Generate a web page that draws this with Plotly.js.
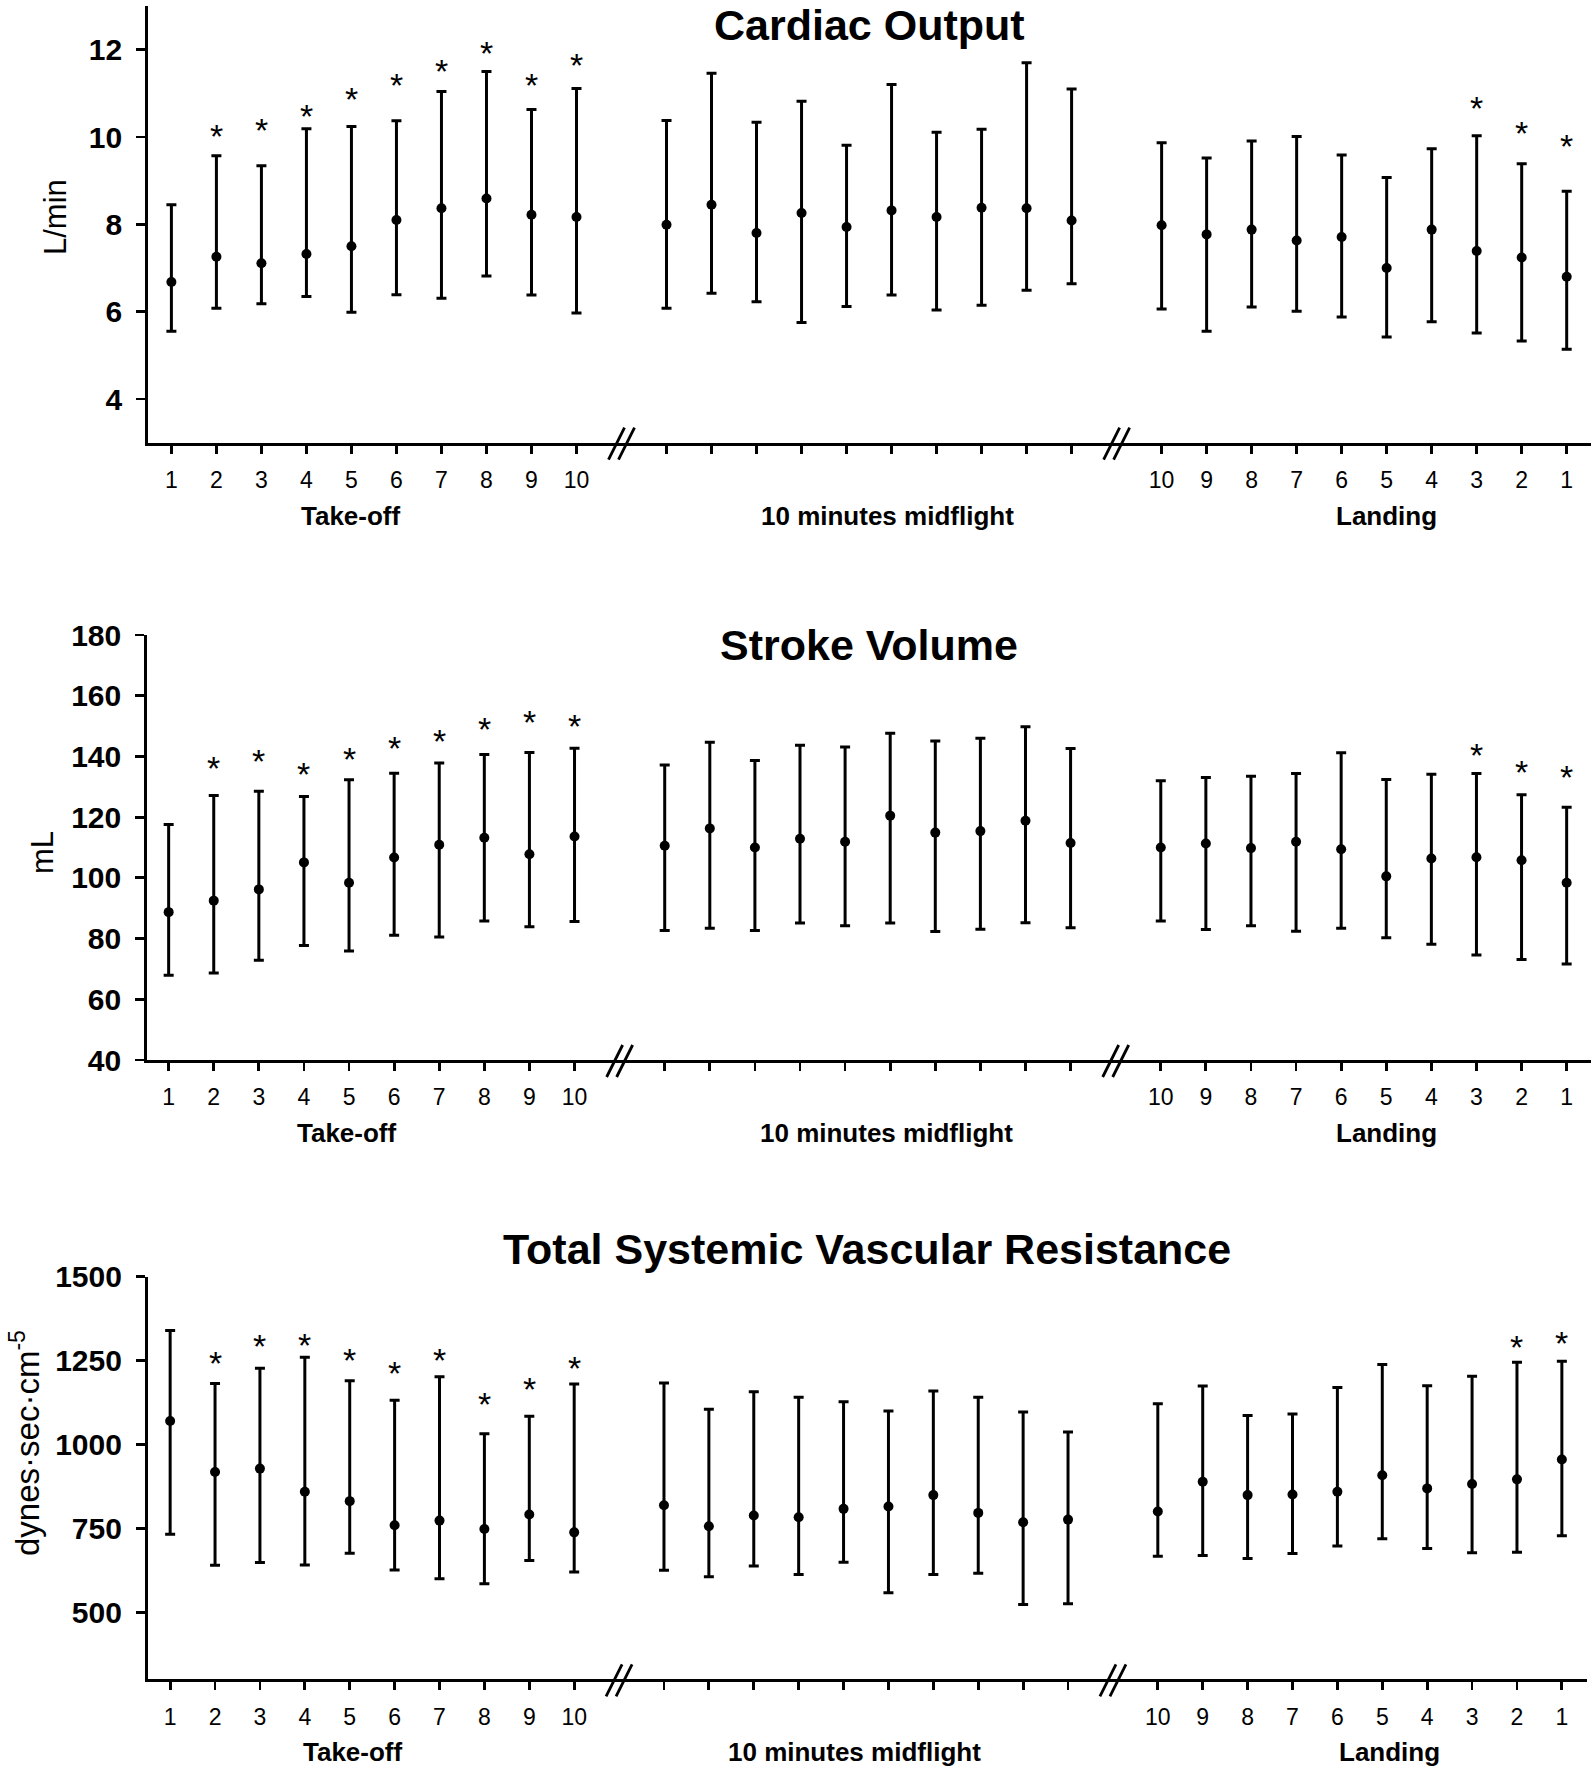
<!DOCTYPE html>
<html>
<head>
<meta charset="utf-8">
<script src="https://cdn.plot.ly/plotly-3.0.1.min.js"></script>
<style>html,body{margin:0;padding:0;background:#fff}</style>
</head>
<body>
<div id="chart" style="width:1593px;height:1772px"></div>
<script>
// x slots: take-off 1..10, axis break, 10 midflight minutes, axis break, landing 10..1
const takeoffLabels = ["1", "2", "3", "4", "5", "6", "7", "8", "9", "10"];
const midflightLabels = ["", "", "", "", "", "", "", "", "", ""];
const landingLabels = ["10", "9", "8", "7", "6", "5", "4", "3", "2", "1"];
const segmentNames = ["Take-off", "10 minutes midflight", "Landing"];

// Cardiac Output (L/min): 10 take-off, 10 midflight, 10 landing points
const coMean = [6.68, 7.26, 7.11, 7.32, 7.50, 8.10, 8.37, 8.59, 8.22, 8.17,
  7.99, 8.45, 7.80, 8.26, 7.94, 8.32, 8.17, 8.38, 8.37, 8.09,
  7.98, 7.77, 7.88, 7.63, 7.71, 7.00, 7.88, 7.39, 7.24, 6.80];
const coUpper = [8.45, 9.57, 9.34, 10.19, 10.24, 10.37, 11.04, 11.50, 10.63, 11.11,
  10.38, 11.46, 10.34, 10.82, 9.81, 11.20, 10.11, 10.18, 11.70, 11.10,
  9.87, 9.52, 9.91, 10.01, 9.59, 9.07, 9.73, 10.03, 9.39, 8.76];
const coLower = [5.55, 6.08, 6.18, 6.35, 5.99, 6.39, 6.31, 6.82, 6.38, 5.97,
  6.08, 6.42, 6.23, 5.75, 6.12, 6.38, 6.04, 6.15, 6.49, 6.64,
  6.06, 5.55, 6.11, 6.01, 5.88, 5.42, 5.77, 5.51, 5.33, 5.14];
const coStar = [null, 10.16, 10.30, 10.62, 11.01, 11.33, 11.66, 12.06, 11.33, 11.78,
  null, null, null, null, null, null, null, null, null, null,
  null, null, null, null, null, null, null, 10.81, 10.22, 9.94];

// Stroke Volume (mL)
const svMean = [88.7, 92.5, 96.2, 105.1, 98.4, 106.7, 110.9, 113.2, 107.8, 113.6,
  110.6, 116.3, 110.0, 112.9, 111.9, 120.5, 114.9, 115.4, 118.8, 111.5,
  110.0, 111.3, 109.8, 111.9, 109.4, 100.5, 106.4, 106.8, 105.8, 98.4];
const svUpper = [117.6, 127.1, 128.5, 126.8, 132.3, 134.5, 137.8, 140.6, 141.3, 142.7,
  137.2, 144.7, 138.7, 143.7, 143.1, 147.6, 145.1, 146.0, 149.8, 142.6,
  132.0, 133.1, 133.5, 134.4, 141.2, 132.4, 134.1, 134.4, 127.4, 123.3];
const svLower = [67.9, 68.7, 72.9, 77.7, 75.9, 81.1, 80.5, 85.8, 83.9, 85.6,
  82.7, 83.4, 82.7, 85.1, 84.2, 85.1, 82.3, 83.1, 85.2, 83.6,
  85.8, 83.0, 84.2, 82.4, 83.4, 80.3, 78.1, 74.6, 73.1, 71.6];
const svStar = [null, 138.2, 140.5, 136.1, 141.1, 144.6, 146.9, 151.0, 153.4, 152.0,
  null, null, null, null, null, null, null, null, null, null,
  null, null, null, null, null, null, null, 142.3, 137.0, 135.2];

// Total Systemic Vascular Resistance (dynes·sec·cm-5)
const tsvrMean = [1070, 918, 928, 859, 831, 759, 773, 748, 791, 738,
  819, 756, 788, 783, 808, 815, 849, 796, 768, 776,
  800, 889, 849, 851, 859, 908, 869, 882, 896, 955];
const tsvrUpper = [1340, 1182, 1227, 1260, 1190, 1132, 1202, 1032, 1084, 1180,
  1183, 1105, 1157, 1141, 1127, 1100, 1159, 1141, 1097, 1037,
  1121, 1174, 1086, 1091, 1170, 1238, 1175, 1203, 1245, 1248];
const tsvrLower = [732, 640, 648, 641, 676, 626, 600, 585, 654, 620,
  625, 606, 638, 612, 649, 558, 612, 616, 523, 525,
  667, 669, 660, 675, 697, 719, 690, 677, 679, 728];
const tsvrStar = [null, 1262, 1310, 1315, 1269, 1231, 1269, 1138, 1182, 1245,
  null, null, null, null, null, null, null, null, null, null,
  null, null, null, null, null, null, null, null, 1308, 1319];

const W = 1593, H = 1772;
const FONT = "Liberation Sans, Arial, Helvetica, sans-serif";

const takeoffKeys = takeoffLabels.map((l) => "T" + l);
const midKeys = midflightLabels.map((l, i) => "M" + (i + 1));
const landingKeys = landingLabels.map((l) => "L" + l);
const slots = [...takeoffKeys, "break1", ...midKeys, "break2", ...landingKeys];
const dataKeys = [...takeoffKeys, ...midKeys, ...landingKeys];
const tickText = [...takeoffLabels, ...midflightLabels, ...landingLabels];

const panels = [
  { title: "Cardiac Output", ytitle: "L/min", ytitleSize: 31,
    mean: coMean, upper: coUpper, lower: coLower, star: coStar,
    yrange: [3, 13], ytick: [4, 6, 8, 10, 12],
    top: 6, bottom: 442.7, xl: 148, xr: 1591, xrange: [-0.52, 31.54],
    titleY: 25, ytitleX: 55, ytitleY: 217,
    segAt: [["T5", 0], ["M6", -4], ["L5", 0]] },
  { title: "Stroke Volume", ytitle: "mL", ytitleSize: 31,
    mean: svMean, upper: svUpper, lower: svLower, star: svStar,
    yrange: [40, 180], ytick: [40, 60, 80, 100, 120, 140, 160, 180],
    top: 635, bottom: 1060, xl: 147, xr: 1591, xrange: [-0.48, 31.54],
    titleY: 645, ytitleX: 42, ytitleY: 853,
    segAt: [["T5", -2], ["M6", -4], ["L5", 0]] },
  { title: "Total Systemic Vascular Resistance", ytitle: "dynes·sec·cm<sup>-5</sup>", ytitleSize: 33,
    mean: tsvrMean, upper: tsvrUpper, lower: tsvrLower, star: tsvrStar,
    yrange: [300, 1500], ytick: [500, 750, 1000, 1250, 1500],
    top: 1276.7, bottom: 1679.3, xl: 147.7, xr: 1587, xrange: [-0.5, 31.56],
    titleY: 1249, ytitleX: 25, ytitleY: 1443,
    segAt: [["T5", 3], ["M5", 11], ["L5", 7]] },
];

const traces = [];
const annotations = [];
const shapes = [];
const layout = {
  width: W, height: H,
  margin: { l: 0, r: 0, t: 0, b: 0 },
  showlegend: false,
  paper_bgcolor: "white",
  plot_bgcolor: "rgba(0,0,0,0)",
  font: { family: FONT, color: "black" },
};

panels.forEach((p, i) => {
  const n = i === 0 ? "" : String(i + 1);
  const xa = "x" + n, ya = "y" + n;

  traces.push({
    type: "scatter", mode: "markers",
    x: dataKeys, y: p.mean,
    xaxis: xa, yaxis: ya,
    marker: { color: "black", size: 10 },
    error_y: {
      type: "data", symmetric: false,
      array: p.upper.map((u, k) => u - p.mean[k]),
      arrayminus: p.lower.map((l, k) => p.mean[k] - l),
      color: "black", thickness: 3, width: 5,
    },
    cliponaxis: false,
    hoverinfo: "skip",
  });

  layout["xaxis" + n] = {
    domain: [p.xl / W, p.xr / W], anchor: ya,
    type: "category", categoryorder: "array", categoryarray: slots,
    range: p.xrange,
    tickmode: "array", tickvals: dataKeys, ticktext: tickText,
    ticks: "outside", ticklen: 8, tickwidth: 2.8, tickcolor: "black",
    showline: true, linewidth: 2.8, linecolor: "black",
    showgrid: false, zeroline: false,
    tickfont: { size: 23, family: FONT, color: "black" },
    ticklabelstandoff: 7,
    automargin: false, fixedrange: true,
  };
  layout["yaxis" + n] = {
    domain: [1 - p.bottom / H, 1 - p.top / H], anchor: xa,
    range: p.yrange,
    tickmode: "array", tickvals: p.ytick,
    ticks: "outside", ticklen: 9, tickwidth: 2.8, tickcolor: "black",
    showline: true, linewidth: 2.8, linecolor: "black",
    showgrid: false, zeroline: false,
    tickfont: { size: 30, family: FONT, color: "black", weight: "bold" },
    ticklabelstandoff: 8,
    automargin: false, fixedrange: true,
  };

  // significance asterisks
  p.star.forEach((s, k) => {
    if (s === null) return;
    annotations.push({
      xref: xa, yref: ya, x: dataKeys[k], y: s,
      text: "*", showarrow: false, yshift: -6,
      font: { size: 34, family: FONT, color: "black" },
    });
  });

  // panel title
  annotations.push({
    xref: "paper", yref: "paper",
    x: (p.xl + p.xr) / 2 / W, y: 1 - p.titleY / H,
    xanchor: "center", yanchor: "middle", borderpad: 0,
    text: p.title, showarrow: false,
    font: { size: 43, family: FONT, color: "black", weight: "bold" },
  });

  // y axis title
  annotations.push({
    xref: "paper", yref: "paper",
    x: p.ytitleX / W, y: 1 - p.ytitleY / H,
    xanchor: "center", yanchor: "middle", textangle: -90,
    text: p.ytitle, showarrow: false,
    font: { size: p.ytitleSize, family: FONT, color: "black" },
  });

  // segment names under the ticks
  segmentNames.forEach((name, s) => {
    annotations.push({
      xref: xa, yref: ya + " domain",
      x: p.segAt[s][0], xshift: p.segAt[s][1], y: 0, yshift: -73,
      xanchor: "center", yanchor: "middle",
      text: name, showarrow: false,
      font: { size: 26, family: FONT, color: "black", weight: "bold" },
    });
  });

  // "//" axis break marks, crossing the x axis line
  const axisY = 1 - p.bottom / H;
  ["break1", "break2"].forEach((b) => {
    const idx = slots.indexOf(b);
    [[-13, 3], [-3, 13]].forEach(([x0, x1]) => {
      shapes.push({
        type: "line", xref: xa, yref: "paper",
        xsizemode: "pixel", xanchor: idx, x0: x0, x1: x1,
        ysizemode: "pixel", yanchor: axisY, y0: -17, y1: 15,
        line: { color: "black", width: 2.8 },
      });
    });
  });
});

layout.annotations = annotations;
layout.shapes = shapes;

Plotly.newPlot("chart", traces, layout, { staticPlot: true });
</script>
</body>
</html>
